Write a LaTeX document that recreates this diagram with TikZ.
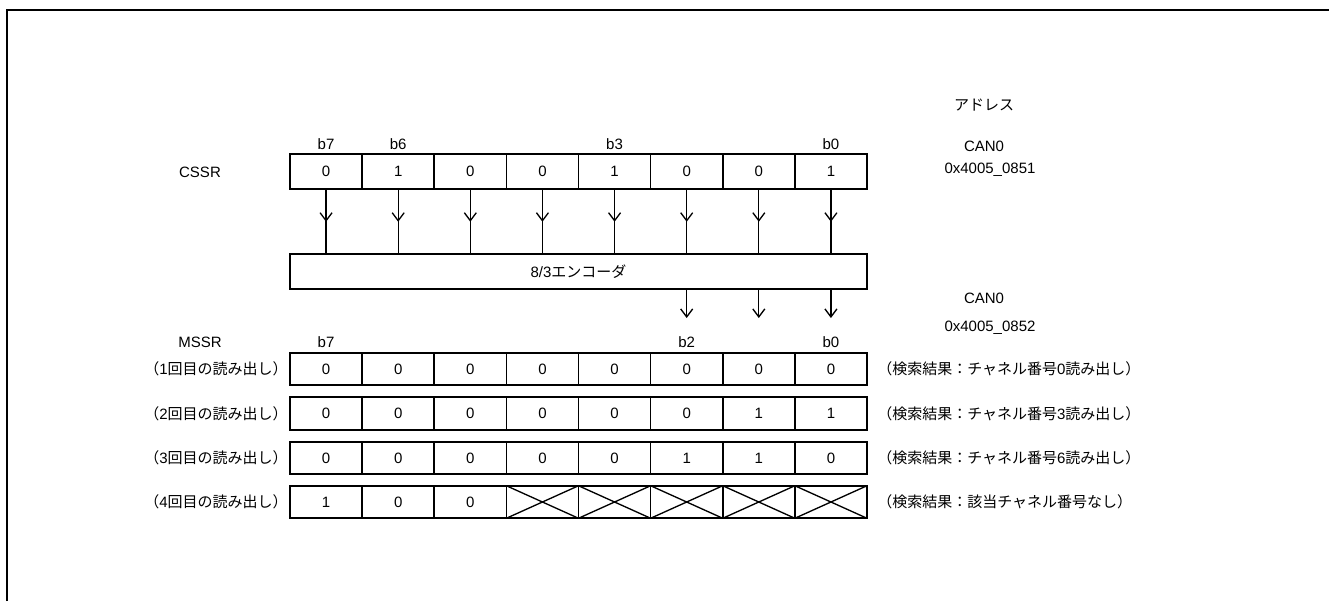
\documentclass[tikz,border=0pt]{standalone}
\usepackage{fontspec}
\setmainfont{Liberation Sans}
\newfontfamily\jp{Noto Sans CJK JP}
\usetikzlibrary{arrows.meta,decorations.markings}
\newcommand{\jt}[1]{{\jp #1}}
\tikzset{
  txt/.style={font=\fontsize{11.25pt}{13pt}\selectfont, inner sep=0pt},
  cell/.style={draw, line width=1.3pt, txt, minimum width=54.1pt, minimum height=24.4pt, outer sep=0pt},
  tip/.tip={Straight Barb[length=6pt,width=9pt]},
  midarrow/.style={line width=1pt, postaction={decorate},
    decoration={markings, mark=at position 0.5 with {\arrow{tip}}}},
  outarrow/.style={line width=1pt, -tip},
}

\begin{document}
\begin{tikzpicture}[x=0.75pt, y=-0.75pt]
    \useasboundingbox (0,0) rectangle (1329,601);
    % Frame
    \draw[line width=1.5pt] (7,601) -- (7,10) -- (1329,10);

    % Address column
    \node[txt] (addr) at (984,105) {\jt{アドレス}};
    \node[txt] (can0a) at (984,146) {CAN0};
    \node[txt] (adra) at (990,170) {0x4005\_0851};

    % CSSR register
    \node[txt] (cssr) at (200,172) {CSSR};
    \foreach \v [count=\i from 0] in {0,1,0,0,1,0,0,1}
        \node[cell, minimum height=26.25pt] (cs\i) at ({326.06+72.125*\i},171.8) {\v};
    \foreach \b/\i in {b7/0,b6/1,b3/4,b0/7}
        \node[txt] (csb\i) at ({326.06+72.125*\i},144) {\b};

    % 8/3 encoder
    \node[cell, minimum width=432.75pt, minimum height=25.8pt] (enc) at (578.5,271.5) {8/3\jt{エンコーダ}};
    \foreach \i in {0,...,7}
        \draw[midarrow] (cs\i.south) -- (cs\i.south |- enc.north);

    % Encoder outputs
    \foreach \i in {5,6,7} {
        \coordinate (out\i) at ({326.06+72.125*\i},318);
        \draw[outarrow] (enc.south -| cs\i) -- (out\i);
    }
    \node[txt] (can0b) at (984,298) {CAN0};
    \node[txt] (adrb) at (990,328) {0x4005\_0852};

    % MSSR register
    \node[txt] (mssr) at (200,342) {MSSR};
    \foreach \b/\i in {b7/0,b2/5,b0/7}
        \node[txt] (msb\i) at ({326.06+72.125*\i},342) {\b};

    % Read results 1 to 3
    \foreach \r/\y/\ch/\vals in {1/369/0/{0,0,0,0,0,0,0,0},
                                 2/413.5/3/{0,0,0,0,0,0,1,1},
                                 3/458/6/{0,0,0,0,0,1,1,0}} {
        \node[txt, anchor=east] (rd\r) at (288,\y) {\jt{（}\r\jt{回目の読み出し）}};
        \foreach \v [count=\i from 0] in \vals
            \node[cell] (m\r c\i) at ({326.06+72.125*\i},\y) {\v};
        \node[txt, anchor=west] (res\r) at (877,\y) {\jt{（検索結果：チャネル番号}\ch\jt{読み出し）}};
    }

    % Read result 4
    \node[txt, anchor=east] (rd4) at (288,502) {\jt{（}4\jt{回目の読み出し）}};
    \foreach \v [count=\i from 0] in {1,0,0}
        \node[cell] (m4c\i) at ({326.06+72.125*\i},502) {\v};
    \foreach \i in {3,...,7} {
        \node[cell] (m4c\i) at ({326.06+72.125*\i},502) {};
        \draw[line width=1pt] (m4c\i.north west) -- (m4c\i.south east)
                              (m4c\i.south west) -- (m4c\i.north east);
    }
    \node[txt, anchor=west] (res4) at (877,502) {\jt{（検索結果：該当チャネル番号なし）}};

\end{tikzpicture}
\end{document}
